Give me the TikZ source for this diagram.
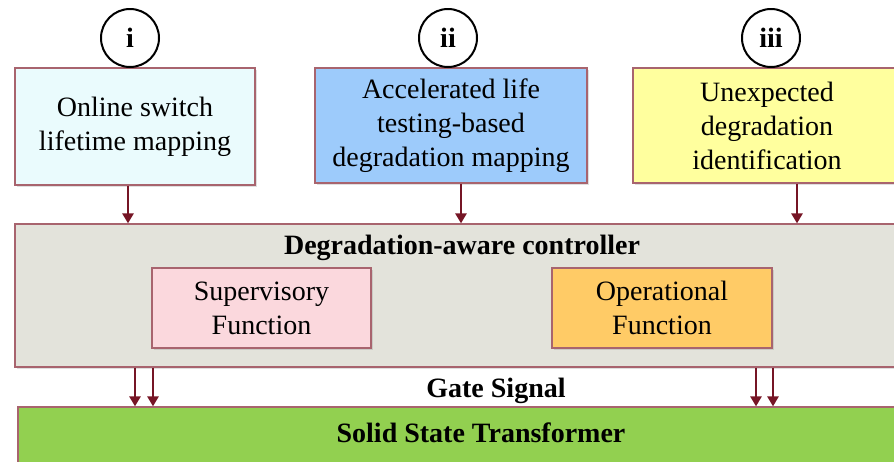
\documentclass[tikz,border=0pt]{standalone}
\usepackage{fontspec}
\setmainfont{Liberation Serif}
\usetikzlibrary{arrows.meta,shadows}

\definecolor{edgered}{HTML}{A8646E}
\definecolor{arrowred}{HTML}{761525}
\definecolor{onlinecol}{HTML}{EAFBFD}
\definecolor{accelcol}{HTML}{9DCBFB}
\definecolor{unexpcol}{HTML}{FFFF9E}
\definecolor{ctrlcol}{HTML}{E3E3DB}
\definecolor{supercol}{HTML}{FBD8DD}
\definecolor{opercol}{HTML}{FFCB66}
\definecolor{sstcol}{HTML}{92D050}

\tikzset{
  box/.style={draw=edgered, line width=0.6pt, rectangle, align=center,
    font=\fontsize{14}{17}\selectfont,
    drop shadow={shadow xshift=1pt, shadow yshift=-1pt, opacity=0.25}},
  boldtext/.style={font=\fontsize{14}{17}\selectfont\bfseries},
  stage/.style={draw=black, line width=1pt, circle, fill=white,
    minimum size=29pt, inner sep=0pt, font=\fontsize{14}{17}\selectfont\bfseries},
  arr/.style={draw=arrowred, line width=1.4pt,
    -{Triangle[width=5.5pt,length=5pt]}}
}

\begin{document}
\begin{tikzpicture}[x=0.5pt,y=-0.5pt]
\useasboundingbox (0,0) rectangle (894,461);

% Input blocks
\node[box, fill=onlinecol, minimum width=120pt, minimum height=58.5pt] (online) at (135,126.5)
  {Online switch\\lifetime mapping};
\node[box, fill=accelcol, minimum width=136pt, minimum height=57.5pt] (accel) at (451,125.5)
  {Accelerated life\\testing-based\\degradation mapping};
\node[box, fill=unexpcol, minimum width=134pt, minimum height=57.5pt] (unexp) at (767,125.5)
  {Unexpected\\degradation\\identification};

% Stage markers
\node[stage] (stagei) at (130,38) {i};
\node[stage] (stageii) at (448,38) {ii};
\node[stage] (stageiii) at (771,38) {iii};

% Controller
\node[box, fill=ctrlcol, minimum width=447pt, minimum height=71.5pt] (ctrl) at (462,295.5) {};
\node[boldtext] (ctrltitle) at (462,248) {Degradation-aware controller};
\node[box, fill=supercol, minimum width=109.5pt, minimum height=40pt] (super) at (261.5,308)
  {Supervisory\\Function};
\node[box, fill=opercol, minimum width=110pt, minimum height=40pt] (oper) at (662,308)
  {Operational\\Function};

% Transformer
\node[draw=edgered, line width=0.6pt, fill=sstcol, minimum width=463pt, minimum height=36.5pt] (sst) at (481,443.5) {};
\node[boldtext] (ssttext) at (481,433) {Solid State Transformer};
\node[boldtext] (gate) at (496,391) {Gate Signal};

% Arrow positions
\coordinate (xa) at (128,0);
\coordinate (xb) at (461,0);
\coordinate (xc) at (797,0);
\draw[arr] (online.south -| xa) -- (ctrl.north -| xa);
\draw[arr] (accel.south -| xb) -- (ctrl.north -| xb);
\draw[arr] (unexp.south -| xc) -- (ctrl.north -| xc);

\foreach \gx in {135,153,756,773}{
  \coordinate (g) at (\gx,0);
  \draw[arr] (ctrl.south -| g) -- (sst.north -| g);
}
\end{tikzpicture}
\end{document}
